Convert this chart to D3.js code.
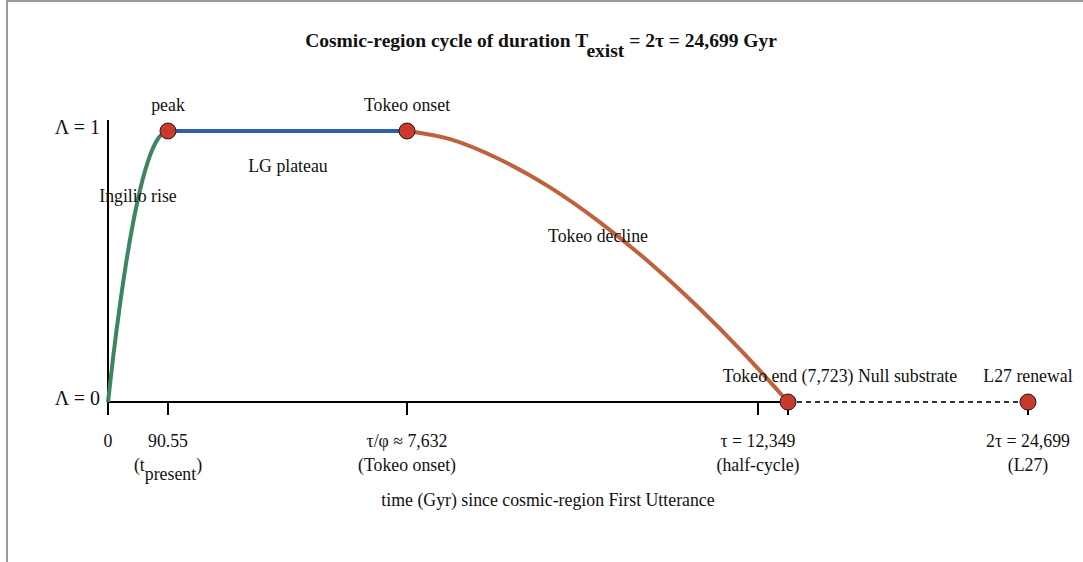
<!DOCTYPE html>
<html>
<head>
<meta charset="utf-8">
<script src="https://cdn.jsdelivr.net/npm/d3@7"></script>
<style>
  html, body { margin: 0; padding: 0; background: #fff; overflow: hidden; }
  #frame { position: absolute; left: 6px; top: 0px; width: 1200px; height: 700px;
           border-left: 2px solid #9a9a9a; border-top: 2px solid #9a9a9a; }
  svg { position: absolute; left: 0; top: 0; }
  text { font-family: "Liberation Serif", "Times New Roman", serif; fill: #111; }
</style>
</head>
<body>
<div id="frame"></div>
<svg id="chart" width="1083" height="562"></svg>
<script>
// ---------- data ----------
const keyTimes   = [0, 90.55, 7632, 12349, 15355, 24699];   // schematic axis anchors (Gyr)
const tickTimes  = [0, 90.55, 7632, 12349, 15355, 24699];
const tickLabel1 = ["0", "90.55", "τ/φ ≈ 7,632", "τ = 12,349", "", "2τ = 24,699"];
const tickLabel2 = ["", "(t|present)", "(Tokeo onset)", "(half-cycle)", "", "(L27)"];

// Ingilio rise (time, Λ)
const riseT = [0, 7.5, 18.1, 30.2, 45.3, 60.4, 75.5, 90.55];
const riseL = [0, 0.16, 0.36, 0.556, 0.75, 0.889, 0.972, 1];
// LG plateau
const plateauT = [90.55, 7632];
const plateauL = [1, 1];
// Tokeo decline
const declineT = [7632, 8210, 8882, 9554, 10226, 10898, 11570, 12107, 12349, 14052, 15355];
const declineL = [1, 0.970, 0.895, 0.792, 0.663, 0.513, 0.343, 0.194, 0.123, 0.054, 0];
// Null substrate
const nullT = [15355, 24699];
const nullL = [0, 0];
// key points
const pointT = [90.55, 7632, 15355, 24699];
const pointL = [1, 1, 0, 0];
const pointLabel = ["peak", "Tokeo onset", "Tokeo end (7,723) Null substrate", "L27 renewal"];

const yTicks = [0, 1];
const yTickLabels = ["Λ = 0", "Λ = 1"];

// ---------- layout ----------
const FS = "17.8px";
const svg = d3.select("#chart");
const x = d3.scaleLinear().domain(keyTimes).range([108, 168, 407, 758, 788, 1028]);
const y = d3.scaleLinear().domain([0, 1]).range([402, 131]);

// title
const title = svg.append("text").attr("x", 541).attr("y", 47).attr("text-anchor", "middle")
  .style("font-size", "19.5px").style("font-weight", "bold");
title.append("tspan").text("Cosmic-region cycle of duration T");
title.append("tspan").attr("dy", 10).text("exist");
title.append("tspan").attr("dy", -10).text(" = 2τ = 24,699 Gyr");

// y axis line
svg.append("line").attr("x1", 108).attr("x2", 108).attr("y1", 120).attr("y2", 402)
  .attr("stroke", "#000").attr("stroke-width", 2);
svg.selectAll(".ylab").data(yTicks).enter().append("text")
  .attr("x", 100).attr("y", d => y(d) + 3).attr("text-anchor", "end")
  .style("font-size", "20px").text((d, i) => yTickLabels[i]);

// x axis line (solid up to Tokeo end)
svg.append("line").attr("x1", x(0)).attr("x2", x(15355)).attr("y1", y(0)).attr("y2", y(0))
  .attr("stroke", "#000").attr("stroke-width", 2);
// ticks
svg.selectAll(".tick").data(tickTimes).enter().append("line")
  .attr("x1", d => x(d)).attr("x2", d => x(d)).attr("y1", y(0)).attr("y2", y(0) + 13)
  .attr("stroke", "#000").attr("stroke-width", 2);
svg.selectAll(".tl1").data(tickTimes).enter().append("text")
  .attr("x", d => x(d)).attr("y", 447).attr("text-anchor", "middle")
  .style("font-size", FS).text((d, i) => tickLabel1[i]);
tickTimes.forEach((d, i) => {
  const lab = tickLabel2[i];
  if (!lab) return;
  const t = svg.append("text").attr("x", x(d)).attr("y", 471).attr("text-anchor", "middle")
    .style("font-size", FS);
  if (lab.includes("|")) {
    const [a, b] = lab.split("|");
    t.append("tspan").text(a);
    t.append("tspan").attr("dy", 9).text(b.replace(")", ""));
    t.append("tspan").attr("dy", -9).text(")");
  } else t.text(lab);
});

// x axis label
svg.append("text").attr("x", 548).attr("y", 506).attr("text-anchor", "middle")
  .style("font-size", FS).text("time (Gyr) since cosmic-region First Utterance");

// curves
const zip = (a, b) => a.map((v, i) => [v, b[i]]);
const line = d3.line().x(d => x(d[0])).y(d => y(d[1])).curve(d3.curveMonotoneX);

svg.append("path").datum(zip(nullT, nullL)).attr("d", line).attr("fill", "none")
  .attr("stroke", "#333").attr("stroke-width", 2).attr("stroke-dasharray", "5,4");

svg.append("path").datum(zip(riseT, riseL)).attr("d", line).attr("fill", "none")
  .attr("stroke", "#3c8560").attr("stroke-width", 4);
svg.append("path").datum(zip(plateauT, plateauL)).attr("d", line).attr("fill", "none")
  .attr("stroke", "#2d5fae").attr("stroke-width", 4);
svg.append("path").datum(zip(declineT, declineL)).attr("d", line)
  .attr("fill", "none").attr("stroke", "#c0613d").attr("stroke-width", 4);

// key points
svg.selectAll(".pt").data(pointT).enter().append("circle")
  .attr("cx", d => x(d)).attr("cy", (d, i) => y(pointL[i])).attr("r", 8)
  .attr("fill", "#c83a2c").attr("stroke", "#2a1a1a").attr("stroke-width", 1);

// point labels
const plx = [x(90.55), x(7632), 840, x(24699)];
const ply = [111, 111, 382, 382];
svg.selectAll(".plab").data(pointLabel).enter().append("text")
  .attr("x", (d, i) => plx[i]).attr("y", (d, i) => ply[i]).attr("text-anchor", "middle")
  .style("font-size", FS).text(d => d);

// segment labels
svg.append("text").attr("x", 288).attr("y", 172).attr("text-anchor", "middle").style("font-size", FS).text("LG plateau");
svg.append("text").attr("x", 138).attr("y", 202).attr("text-anchor", "middle").style("font-size", FS).text("Ingilio rise");
svg.append("text").attr("x", 598).attr("y", 242).attr("text-anchor", "middle").style("font-size", FS).text("Tokeo decline");
</script>
</body>
</html>
